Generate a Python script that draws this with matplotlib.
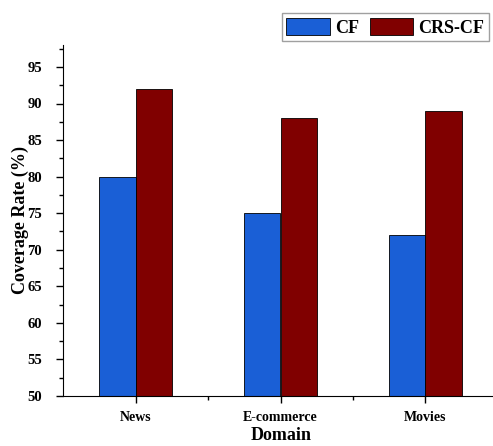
import matplotlib
matplotlib.use("Agg")
import matplotlib.pyplot as plt
import numpy as np
from matplotlib.ticker import MultipleLocator

categories = ["News", "E-commerce", "Movies"]
cf = [80, 75, 72]
crs_cf = [92, 88, 89]
yticks = [50, 55, 60, 65, 70, 75, 80, 85, 90, 95]

plt.rcParams['font.family'] = ['Liberation Serif', 'DejaVu Serif']
plt.rcParams['font.weight'] = 'bold'

fig = plt.figure(figsize=(4.93, 4.46), dpi=100)
ax = fig.add_axes([63/493, 1-396/446, 435/493, (396-45)/446])

x = np.arange(len(categories))
w = 0.25
ax.bar(x - w/2, cf, w, color="#1a5fd6", edgecolor="black", linewidth=0.6, label="CF")
ax.bar(x + w/2, crs_cf, w, color="#800000", edgecolor="black", linewidth=0.6, label="CRS-CF")

ax.set_ylim(50, 98)
ax.set_xlim(-0.5, 2.5)
ax.set_yticks(yticks)
ax.yaxis.set_minor_locator(MultipleLocator(2.5))
ax.set_xticks(x)
ax.set_xticklabels(categories, fontsize=10, fontweight='bold')
ax.set_xticks([0.5, 1.5], minor=True)
for lab in ax.get_yticklabels():
    lab.set_fontsize(10.5); lab.set_fontweight('bold')
ax.tick_params(axis='y', which='major', direction='out', length=5, width=1, pad=10)
ax.tick_params(axis='x', which='major', direction='out', length=5, width=1, pad=6)
ax.tick_params(axis='both', which='minor', direction='out', length=3, width=1)
ax.spines['top'].set_visible(False)
ax.spines['right'].set_visible(False)
ax.set_ylabel("Coverage Rate (%)", fontsize=13, fontweight='bold')
ax.yaxis.set_label_coords((20 - 63) / 435, 0.5)
ax.set_xlabel("Domain", fontsize=13, fontweight='bold')
ax.xaxis.set_label_coords((281 - 63) / 435, -(436 - 396) / 351)
ax.xaxis.label.set_va('center')
ax.yaxis.label.set_va('center')

leg = fig.legend(loc='upper right', bbox_to_anchor=(1.01, 0.99), ncol=2, frameon=True,
                 fancybox=False, edgecolor='#888888',
                 prop={'weight': 'bold', 'size': 13}, handlelength=2.4, handleheight=1.1,
                 columnspacing=0.6, handletextpad=0.3, borderpad=0.25)
fig.savefig("out.png", dpi=100)
